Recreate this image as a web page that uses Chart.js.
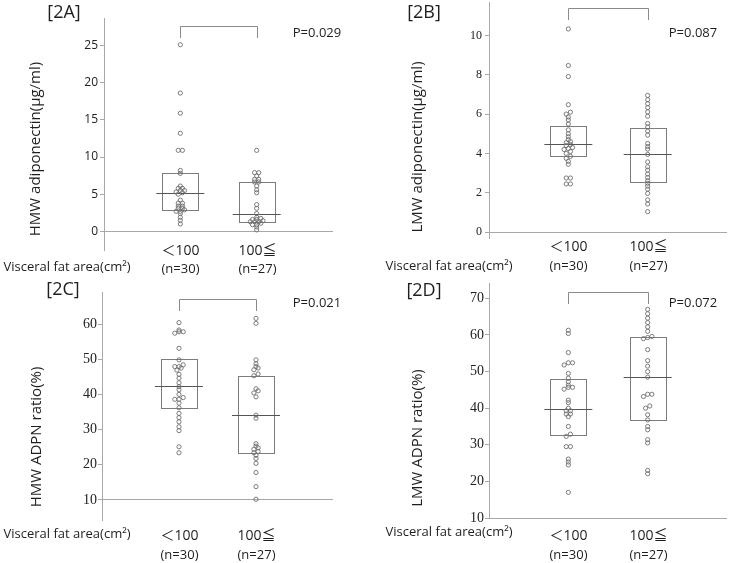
<!DOCTYPE html>
<html>
<head>
<meta charset="utf-8">
<script src="https://cdn.jsdelivr.net/npm/chart.js@4.4.1/dist/chart.umd.min.js"></script>
<style>
  html, body { margin: 0; padding: 0; background: #fff; }
  #wrap { position: relative; width: 733px; height: 563px; overflow: hidden; }
  canvas { position: absolute; }
</style>
</head>
<body>
<div id="wrap">
  <canvas id="c2A" width="366" height="280" style="left:0;top:0"></canvas>
  <canvas id="c2B" width="367" height="280" style="left:366px;top:0"></canvas>
  <canvas id="c2C" width="366" height="283" style="left:0;top:280px"></canvas>
  <canvas id="c2D" width="367" height="283" style="left:366px;top:280px"></canvas>
</div>
<script>
// ===== DATA =====
const groupLabels = ['＜100', '100≦'];
const groupN = ['(n=30)', '(n=27)'];
const xAxisName = 'Visceral fat area(cm²)';

// [2A] HMW adiponectin (μg/ml)
const hmwUnder100 = [1.0, 1.5, 1.9, 2.4, 2.7, 2.7, 2.9, 3.1, 3.1, 3.4, 3.4, 3.8, 3.8, 4.2, 5.0,
  5.2, 5.3, 5.5, 5.5, 5.8, 5.8, 6.1, 7.8, 8.2, 10.9, 10.9, 13.2, 15.9, 18.6, 25.1];
const hmwOver100 = [0.2, 0.6, 0.9, 0.9, 1.1, 1.3, 1.3, 1.3, 1.45, 1.6, 1.6, 1.75, 1.9, 2.4,
  3.1, 3.6, 5.2, 5.6, 6.1, 6.65, 6.65, 7.0, 7.0, 7.45, 7.9, 7.9, 10.9];
const hmwQ1 = [2.9, 1.2];
const hmwMedian = [5.1, 2.4];
const hmwQ3 = [7.9, 6.6];
const hmwTicks = [0, 5, 10, 15, 20, 25];
const hmwP = 'P=0.029';

// [2B] LMW adiponectin (μg/ml)
const lmwUnder100 = [2.45, 2.45, 2.75, 2.75, 3.45, 3.6, 3.75, 3.85, 4.0, 4.1, 4.2, 4.25, 4.3, 4.4, 4.45,
  4.55, 4.6, 4.7, 4.85, 5.0, 5.2, 5.5, 5.7, 5.85, 6.0, 6.1, 6.48, 7.91, 8.47, 10.33];
const lmwOver100 = [1.04, 1.43, 1.64, 1.97, 2.18, 2.34, 2.48, 2.61, 2.78, 2.95, 3.15, 3.32, 3.57, 3.95,
  4.22, 4.35, 4.51, 4.93, 5.14, 5.35, 5.52, 5.89, 6.11, 6.33, 6.53, 6.73, 6.95];
const lmwQ1 = [3.86, 2.53];
const lmwMedian = [4.5, 3.96];
const lmwQ3 = [5.38, 5.27];
const lmwTicks = [0, 2, 4, 6, 8, 10];
const lmwP = 'P=0.087';

// [2C] HMW ADPN ratio (%)
const hmwRatioUnder100 = [23.4, 25.1, 29.7, 30.8, 32.2, 33.4, 34.6, 36.2, 37.5, 38.6, 38.6, 39.1, 40.0, 41.3, 42.2,
  43.3, 44.6, 45.7, 46.9, 47.5, 47.9, 47.9, 48.4, 49.8, 53.1, 57.4, 57.8, 57.8, 58.3, 60.4];
const hmwRatioOver100 = [10.2, 13.8, 17.8, 20.4, 21.8, 22.7, 23.4, 23.8, 24.4, 24.8, 25.3, 26.0, 33.2, 34.1,
  39.3, 40.4, 41.0, 41.6, 45.3, 45.8, 47.0, 47.5, 47.9, 48.7, 49.8, 60.2, 61.6];
const hmwRatioQ1 = [36.1, 23.3];
const hmwRatioMedian = [42.3, 34.1];
const hmwRatioQ3 = [50.0, 45.3];
const hmwRatioTicks = [10, 20, 30, 40, 50, 60];
const hmwRatioP = 'P=0.021';

// [2D] LMW ADPN ratio (%)
const lmwRatioUnder100 = [17.0, 24.5, 25.3, 26.1, 29.5, 29.5, 32.3, 32.9, 35.0, 37.7, 38.4, 38.4, 39.3, 39.3, 40.0,
  41.5, 42.2, 45.2, 45.7, 45.7, 46.3, 47.2, 48.2, 49.5, 51.8, 52.4, 52.4, 55.2, 60.4, 61.3];
const lmwRatioOver100 = [22.1, 23.0, 30.5, 31.4, 34.1, 35.0, 36.8, 38.2, 40.0, 40.6, 43.2, 43.8, 43.8, 48.5,
  50.0, 51.5, 53.0, 56.0, 59.0, 59.3, 59.6, 61.0, 62.2, 63.4, 64.6, 65.8, 67.0];
const lmwRatioQ1 = [32.7, 36.8];
const lmwRatioMedian = [39.8, 48.5];
const lmwRatioQ3 = [47.9, 59.4];
const lmwRatioTicks = [10, 20, 30, 40, 50, 60, 70];
const lmwRatioP = 'P=0.072';

// ===== STYLE =====
const SANS = '"Open Sans", "Noto Sans", "Noto Sans CJK JP", sans-serif';
const SERIF = '"Liberation Serif", serif';
const AXIS_GRAY = '#a8a8a8';
const BOX_GRAY = '#7c7c7c';
const MED_GRAY = '#555';
const DOT_GRAY = '#6e6e6e';
const TEXT = '#1e1e1e';

// panel setup: geometry in canvas pixels
const panels = [
  { id: 'c2A', tag: '[2A]', title: 'HMW adiponectin(μg/ml)', under: hmwUnder100, over: hmwOver100,
    q1: hmwQ1, med: hmwMedian, q3: hmwQ3, ticks: hmwTicks, p: hmwP,
    yMin: -2.5, yMax: 28.7, base: 0, tickFont: { family: SANS, size: 12 }, tickPad: 2,
    size: [366, 280], area: { left: 104, top: 18, right: 333, bottom: 250 },
    titleX: 36, titleY: 149, tagX: 64, tagY: 13, pX: 317, pY: 33, bracketY: 26,
    catY: [251, 269], vfaX: 67, vfaY: 267 },
  { id: 'c2B', tag: '[2B]', title: 'LMW adiponectin(μg/ml)', under: lmwUnder100, over: lmwOver100,
    q1: lmwQ1, med: lmwMedian, q3: lmwQ3, ticks: lmwTicks, p: lmwP,
    yMin: -0.3, yMax: 11.7, base: 0, tickFont: { family: SERIF, size: 12 }, tickPad: 3,
    size: [367, 280], area: { left: 123, top: 2, right: 361, bottom: 238 },
    titleX: 52, titleY: 147, tagX: 58, tagY: 13, pX: 327, pY: 33, bracketY: 8,
    catY: [247, 266], vfaX: 83, vfaY: 266 },
  { id: 'c2C', tag: '[2C]', title: 'HMW ADPN ratio(%)', under: hmwRatioUnder100, over: hmwRatioOver100,
    q1: hmwRatioQ1, med: hmwRatioMedian, q3: hmwRatioQ3, ticks: hmwRatioTicks, p: hmwRatioP,
    yMin: 4.3, yMax: 69.1, base: 10, tickFont: { family: SERIF, size: 14 }, tickPad: 1,
    size: [366, 283], area: { left: 102, top: 12, right: 333, bottom: 240 },
    titleX: 37, titleY: 157, tagX: 63, tagY: 10, pX: 317, pY: 23, bracketY: 19,
    catY: [256, 275], vfaX: 67, vfaY: 254 },
  { id: 'c2D', tag: '[2D]', title: 'LMW ADPN ratio(%)', under: lmwRatioUnder100, over: lmwRatioOver100,
    q1: lmwRatioQ1, med: lmwRatioMedian, q3: lmwRatioQ3, ticks: lmwRatioTicks, p: lmwRatioP,
    yMin: 10, yMax: 74.2, base: 10, tickFont: { family: SERIF, size: 14 }, tickPad: 1,
    size: [367, 283], area: { left: 123, top: 3, right: 361, bottom: 238 },
    titleX: 52, titleY: 158, tagX: 58, tagY: 11, pX: 327, pY: 23, bracketY: 12,
    catY: [256, 275], vfaX: 83, vfaY: 252 }
];

// ===== simple dot-plot layout: near-equal values sit side by side =====
function swarm(values, center, pxX, pxY) {
    const sorted = [...values].sort((a, b) => a - b);
    const rows = [];
    sorted.forEach(v => {
        const last = rows[rows.length - 1];
        if (last && (v - last[0]) * pxY < 2.2) last.push(v);
        else rows.push([v]);
    });
    const pts = [];
    rows.forEach(r => r.forEach((v, i) => {
        const off = (i - (r.length - 1) / 2) * 4.2;
        pts.push({ x: center + off / pxX, y: v });
    }));
    return pts;
}

function drawText(ctx, str, x, y, font, align) {
    ctx.font = font;
    ctx.fillStyle = TEXT;
    ctx.textAlign = align || 'center';
    ctx.textBaseline = 'middle';
    ctx.fillText(str, x, y);
}

function decor(p) {
    return {
        id: 'decor',
        beforeDatasetsDraw(chart) {
            const { ctx, scales: { x, y } } = chart;
            ctx.save();
            ctx.lineWidth = 1;
            [0, 1].forEach(i => {
                const cx = x.getPixelForValue(i + 1);
                const top = Math.round(y.getPixelForValue(p.q3[i]));
                const bot = Math.round(y.getPixelForValue(p.q1[i]));
                ctx.strokeStyle = BOX_GRAY;
                ctx.strokeRect(Math.round(cx - 18) + 0.5, top + 0.5, 36, bot - top);
                const my = Math.round(y.getPixelForValue(p.med[i])) + 0.5;
                ctx.strokeStyle = MED_GRAY;
                ctx.beginPath();
                ctx.moveTo(cx - 24, my);
                ctx.lineTo(cx + 24, my);
                ctx.stroke();
            });
            ctx.restore();
        },
        afterDraw(chart) {
            const { ctx, scales: { x } } = chart;
            const x1 = Math.round(x.getPixelForValue(1)) + 0.5;
            const x2 = Math.round(x.getPixelForValue(2)) + 0.5;
            ctx.save();
            // significance bracket
            ctx.strokeStyle = '#8a8a8a';
            ctx.lineWidth = 1;
            ctx.beginPath();
            ctx.moveTo(x1, p.bracketY + 12);
            ctx.lineTo(x1, p.bracketY + 0.5);
            ctx.lineTo(x2, p.bracketY + 0.5);
            ctx.lineTo(x2, p.bracketY + 12);
            ctx.stroke();

            drawText(ctx, p.p, p.pX, p.pY, '13px ' + SANS);
            drawText(ctx, p.tag, p.tagX, p.tagY, '18px ' + SANS);

            // category labels
            [x1, x2].forEach((cx, i) => {
                drawText(ctx, groupLabels[i], cx, p.catY[0], '14px ' + SANS);
                drawText(ctx, groupN[i], cx, p.catY[1], '13px ' + SANS);
            });
            drawText(ctx, xAxisName, p.vfaX, p.vfaY, '13px ' + SANS);

            // y axis title
            ctx.translate(p.titleX, p.titleY);
            ctx.rotate(-Math.PI / 2);
            drawText(ctx, p.title, 0, 0, '15px ' + SANS);
            ctx.restore();
        }
    };
}

panels.forEach(p => {
    const [w, h] = p.size;
    const a = p.area;
    const pxY = (a.bottom - a.top) / (p.yMax - p.yMin);
    const pxX = (a.right - a.left) / 3;
    const datasets = [p.under, p.over].map((vals, i) => ({
        data: swarm(vals, i + 1, pxX, pxY),
        pointRadius: 2.1,
        pointBorderWidth: 0.9,
        pointBorderColor: DOT_GRAY,
        pointBackgroundColor: 'rgba(0,0,0,0)',
        showLine: false
    }));

    new Chart(document.getElementById(p.id), {
        type: 'scatter',
        data: { datasets },
        options: {
            responsive: false,
            animation: false,
            events: [],
            layout: {
                autoPadding: false,
                padding: { left: 0, top: a.top, right: w - a.right, bottom: h - a.bottom }
            },
            plugins: { legend: { display: false }, tooltip: { enabled: false } },
            scales: {
                x: { type: 'linear', min: 0, max: 3, display: false },
                y: {
                    type: 'linear',
                    min: p.yMin,
                    max: p.yMax,
                    afterFit: s => { s.width = a.left; s.paddingTop = 0; s.paddingBottom = 0; },
                    afterBuildTicks: s => { s.ticks = p.ticks.map(v => ({ value: v })); },
                    ticks: { font: p.tickFont, color: '#222', padding: p.tickPad },
                    grid: {
                        color: c => (c.tick && c.tick.value === p.base) ? AXIS_GRAY : 'rgba(0,0,0,0)',
                        tickColor: AXIS_GRAY,
                        tickLength: 4
                    },
                    border: { display: true, color: AXIS_GRAY }
                }
            }
        },
        plugins: [decor(p)]
    });
});
</script>
</body>
</html>
